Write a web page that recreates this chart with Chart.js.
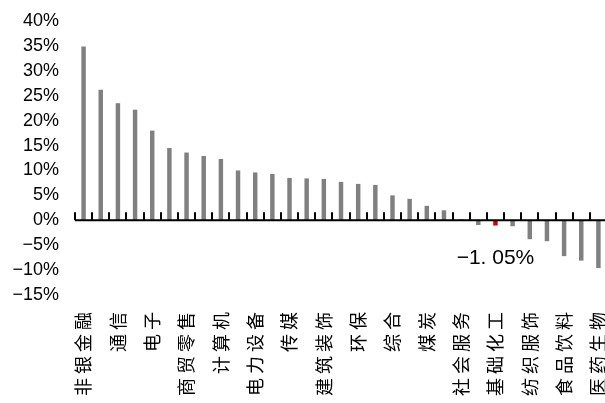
<!DOCTYPE html>
<html>
<head>
<meta charset="utf-8">
<script src="https://cdn.jsdelivr.net/npm/chart.js@4.4.1/dist/chart.umd.min.js"></script>
<style>
  html, body { margin: 0; padding: 0; background: #fff; overflow: hidden; }
  canvas { display: block; }
</style>
</head>
<body>
<canvas id="chart" width="607" height="403"></canvas>
<script>
// ---- Data ----
// only every other industry is labelled on the axis, the rest stay blank
const categories = ['非银金融', '', '通信', '', '电子', '', '商贸零售', '', '计算机', '', '电力设备', '', '传媒', '', '建筑装饰', '', '环保', '', '综合', '', '煤炭', '', '社会服务', '', '基础化工', '', '纺织服饰', '', '食品饮料', '', '医药生物'];
const changes = [34.9, 26.2, 23.5, 22.2, 18.0, 14.5, 13.6, 12.9, 12.3, 10.0, 9.6, 9.3, 8.5, 8.4, 8.3, 7.7, 7.3, 7.1, 5.0, 4.3, 2.9, 2.0, 0.2, -0.95, -1.05, -1.2, -3.8, -4.2, -7.2, -8.1, -9.6];
const highlightIndex = 24;          // 基础化工
const highlightLabel = '−1. 05%';
const yMin = -15, yMax = 40, yStep = 5;

const barColors = changes.map((v, i) => i === highlightIndex ? '#d00000' : '#808080');

// ---- Zero line with inner ticks + annotation ----
const zeroAxisPlugin = {
  id: 'zeroAxis',
  afterDatasetsDraw(chart) {
    const ctx = chart.ctx;
    const xs = chart.scales.x, ys = chart.scales.y;
    const y0 = ys.getPixelForValue(0);
    const step = xs.getPixelForValue(1) - xs.getPixelForValue(0);
    ctx.save();
    ctx.strokeStyle = '#000';
    ctx.lineWidth = 2;
    ctx.beginPath();
    ctx.moveTo(chart.chartArea.left, y0);
    ctx.lineTo(chart.chartArea.right, y0);
    for (let i = 0; i < categories.length; i++) {
      const bx = Math.round(xs.getPixelForValue(i) - step / 2);
      ctx.moveTo(bx, y0);
      ctx.lineTo(bx, y0 - 8);
    }
    ctx.stroke();

    ctx.fillStyle = '#000';
    ctx.font = '21px "Liberation Sans", Arial, sans-serif';
    ctx.textAlign = 'center';
    ctx.textBaseline = 'middle';
    ctx.fillText(highlightLabel, xs.getPixelForValue(highlightIndex), ys.getPixelForValue(changes[highlightIndex]) + 33);
    ctx.restore();
    // spaced-out category labels (drawn next, x ticks sit at z 1)
    ctx.letterSpacing = '4px';
  },
  afterDraw(chart) {
    chart.ctx.letterSpacing = '0px';
  }
};

const ctx = document.getElementById('chart').getContext('2d');
new Chart(ctx, {
  type: 'bar',
  data: {
    labels: categories,
    datasets: [{
      data: changes,
      backgroundColor: barColors,
      borderWidth: 0,
      barPercentage: 0.26,
      categoryPercentage: 1
    }]
  },
  options: {
    responsive: false,
    devicePixelRatio: 1,
    animation: false,
    layout: { padding: { top: 21, right: 0, bottom: 0, left: 0 } },
    plugins: { legend: { display: false }, tooltip: { enabled: false } },
    scales: {
      x: {
        offset: true,
        grid: { display: false, drawTicks: false },
        border: { display: false },
        ticks: {
          autoSkip: false,
          minRotation: 90,
          maxRotation: 90,
          padding: 13,
          z: 1,
          color: '#000',
          font: { family: '"Noto Sans CJK SC", sans-serif', size: 18 }
        },
        afterFit(scale) {
          scale.height = 108;
          scale.paddingLeft = 0;
          scale.paddingRight = 0;
        }
      },
      y: {
        min: yMin,
        max: yMax,
        grid: { display: false, drawTicks: false },
        border: { display: false },
        ticks: {
          stepSize: yStep,
          padding: 16,
          color: '#000',
          font: { family: '"Liberation Sans", Arial, sans-serif', size: 18 },
          callback: v => (v < 0 ? '−' + Math.abs(v) : v) + '%'
        },
        afterFit(scale) {
          scale.width = 75;
          scale.paddingTop = 0;
          scale.paddingBottom = 0;
        }
      }
    }
  },
  plugins: [zeroAxisPlugin]
});
</script>
</body>
</html>
